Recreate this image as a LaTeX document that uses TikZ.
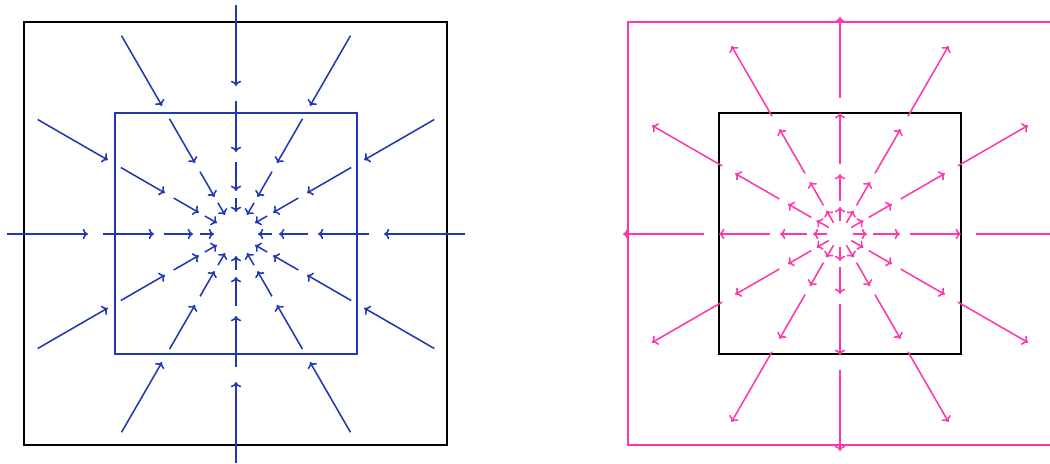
\documentclass[tikz,border=0pt]{standalone}
\usepackage{xcolor}
\usetikzlibrary{arrows.meta}
\definecolor{fieldblue}{RGB}{34, 56, 178}
\definecolor{fieldpink}{RGB}{255, 56, 170}
\tikzset{
    frame/.style   ={draw=black, line width=1.9pt},
    blueframe/.style={frame, draw=fieldblue},
    pinkframe/.style={frame, draw=fieldpink},
    inar/.style    ={-{To[length=3.8pt, width=7.5pt]}, line width=1.1pt, draw=fieldblue},
    outar/.style   ={-{To[length=3.8pt, width=7.5pt]}, line width=1.1pt, draw=fieldpink}
}

\begin{document}
\begin{tikzpicture}[x=0.025cm, y=-0.025cm]
  \useasboundingbox (0,0) rectangle (1050,463);

  % ---- sink: field lines running in
  \coordinate (sink) at (236,234);
  \draw[frame]     (24,22)   rectangle (447,445);
  \draw[blueframe] (115,113) rectangle (357,354);
  \foreach \a in {0,30,...,330}
    \foreach \ro/\ri in {229/148, 133/82, 72/43, 36/22}
      \draw[inar] ([shift={(\a:\ro)}]sink) -- ([shift={(\a:\ri)}]sink);

  % ---- source: field lines running out
  \coordinate (source) at (840,234);
  \draw[pinkframe] (628,22)  rectangle (1051,445);
  \draw[frame]     (719,113) rectangle (961,354);
  \foreach \a in {0,30,...,330}
    \foreach \ri/\ro in {13/27, 33/60, 70/121, 136/217}
      \draw[outar] ([shift={(\a:\ri)}]source) -- ([shift={(\a:\ro)}]source);
\end{tikzpicture}
\end{document}
